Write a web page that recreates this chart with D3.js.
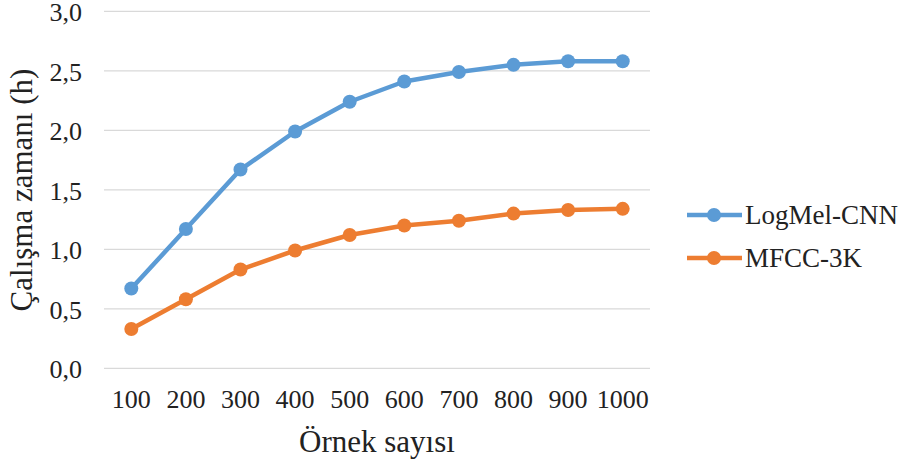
<!DOCTYPE html>
<html>
<head>
<meta charset="utf-8">
<script src="https://cdn.jsdelivr.net/npm/d3@7"></script>
</head>
<body style="margin:0;background:#fff">
<svg id="chart" width="908" height="466" style="font-family:'Liberation Serif',serif"></svg>
<script>
// Sample counts on the x axis
const categories = ["100", "200", "300", "400", "500", "600", "700", "800", "900", "1000"];
// Running time in hours for each method
const logMelCnn = [0.67, 1.17, 1.67, 1.99, 2.24, 2.41, 2.49, 2.55, 2.58, 2.58];
const mfcc3k    = [0.33, 0.58, 0.83, 0.99, 1.12, 1.20, 1.24, 1.30, 1.33, 1.34];
const seriesNames = ["LogMel-CNN", "MFCC-3K"];
const yTicks = [0, 0.5, 1, 1.5, 2, 2.5, 3];

const INK = "#222";
const colors = ["#5B9BD5", "#ED7D31"];
const series = [
  { name: seriesNames[0], values: logMelCnn, color: colors[0] },
  { name: seriesNames[1], values: mfcc3k, color: colors[1] }
];

const svg = d3.select("#chart");
const plot = { left: 104, right: 650, top: 11.3, bottom: 368.3 };

const x = d3.scaleBand().domain(categories).range([plot.left, plot.right]);
const y = d3.scaleLinear().domain([0, 3]).range([plot.bottom, plot.top]);
const fmt = v => d3.format(".1f")(v).replace(".", ",");

// Horizontal gridlines
svg.append("g")
  .selectAll("line")
  .data(yTicks)
  .join("line")
  .attr("x1", plot.left).attr("x2", plot.right)
  .attr("y1", d => y(d)).attr("y2", d => y(d))
  .attr("stroke", "#d9d9d9").attr("stroke-width", 1.2);

// Y axis labels
const yAxis = svg.append("g")
  .attr("transform", `translate(${plot.left},0)`)
  .call(d3.axisLeft(y).tickValues(yTicks).tickFormat(fmt).tickSize(0).tickPadding(22));
yAxis.attr("font-family", null).attr("font-size", null);
yAxis.select(".domain").remove();
yAxis.selectAll("text")
  .attr("dy", "0.37em")
  .attr("font-size", 26).attr("fill", INK);

// X axis labels
const xAxis = svg.append("g")
  .attr("transform", `translate(0,${plot.bottom})`)
  .call(d3.axisBottom(x).tickSize(0).tickPadding(21));
xAxis.attr("font-family", null).attr("font-size", null);
xAxis.select(".domain").remove();
xAxis.selectAll("text")
  .attr("font-size", 26).attr("fill", INK);

// Axis titles
svg.append("text")
  .attr("x", 377).attr("y", 452)
  .attr("text-anchor", "middle")
  .attr("font-size", 31).attr("fill", INK)
  .text("Örnek sayısı");

svg.append("text")
  .attr("transform", "translate(32,190) rotate(-90)")
  .attr("text-anchor", "middle")
  .attr("font-size", 31).attr("fill", INK)
  .text("Çalışma zamanı (h)");

// Lines and markers
const line = d3.line()
  .x((d, i) => x(categories[i]) + x.bandwidth() / 2)
  .y(d => y(d));

series.forEach(s => {
  svg.append("path")
    .datum(s.values)
    .attr("d", line)
    .attr("fill", "none")
    .attr("stroke", s.color)
    .attr("stroke-width", 4.5)
    .attr("stroke-linejoin", "round");
  svg.append("g")
    .selectAll("circle")
    .data(s.values)
    .join("circle")
    .attr("cx", (d, i) => x(categories[i]) + x.bandwidth() / 2)
    .attr("cy", d => y(d))
    .attr("r", 7)
    .attr("fill", s.color);
});

// Legend
const legend = svg.append("g");
series.forEach((s, i) => {
  const ly = 215 + i * 43;
  legend.append("line")
    .attr("x1", 687).attr("x2", 742)
    .attr("y1", ly).attr("y2", ly)
    .attr("stroke", s.color).attr("stroke-width", 4.5);
  legend.append("circle")
    .attr("cx", 714).attr("cy", ly).attr("r", 7)
    .attr("fill", s.color);
  legend.append("text")
    .attr("x", 745).attr("y", ly + 9)
    .attr("font-size", 27).attr("fill", INK)
    .text(s.name);
});
</script>
</body>
</html>
